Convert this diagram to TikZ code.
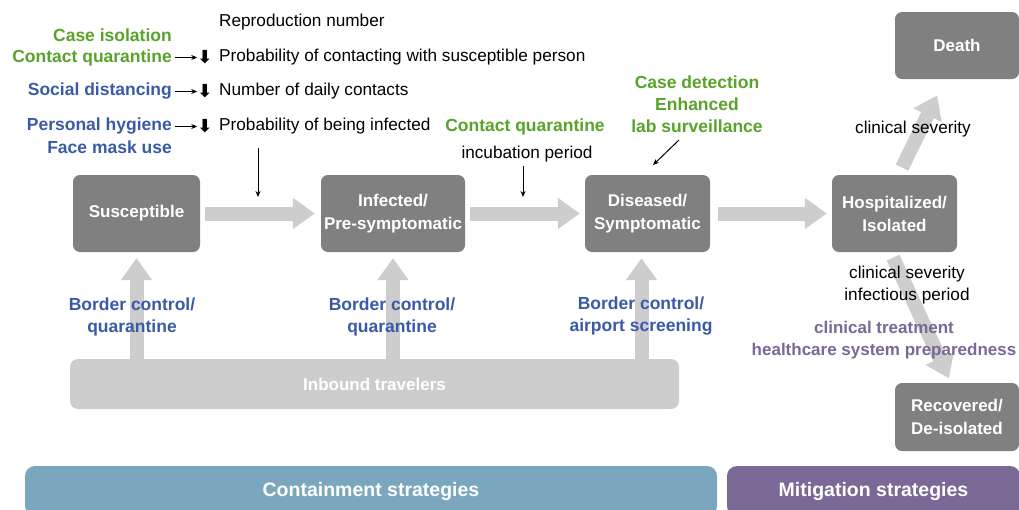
\documentclass[tikz,border=0pt]{standalone}
\usepackage{fontspec}
\setmainfont{Liberation Sans}
\newfontfamily\symfont{DejaVu Sans}
\usetikzlibrary{arrows.meta}
\definecolor{boxgray}{RGB}{128,128,128}
\definecolor{arrgray}{RGB}{205,205,205}
\definecolor{ctgreen}{RGB}{88,163,42}
\definecolor{ctblue}{RGB}{58,90,168}
\definecolor{mtpurple}{RGB}{122,104,150}
\definecolor{contblue}{RGB}{122,167,190}

\begin{document}
\begin{tikzpicture}[x=1pt,y=-1pt,
	state/.style={rectangle,rounded corners=7pt,fill=boxgray,text=white,align=center,inner sep=0pt,
		minimum height=77pt,font=\bfseries\fontsize{17}{23}\selectfont},
	inbox/.style={rectangle,rounded corners=8pt,fill=arrgray,text=white,inner sep=0pt,
		font=\bfseries\fontsize{17}{22}\selectfont},
	stratbox/.style={rectangle,rounded corners=10pt,text=white,inner sep=0pt,minimum height=50pt,
		font=\bfseries\fontsize{19.5}{22}\selectfont},
	lbl/.style={inner sep=0pt,align=center,font=\bfseries\fontsize{17.5}{22}\selectfont},
	txt/.style={inner sep=0pt,align=center,font=\fontsize{17.2}{22}\selectfont},
	dn/.style={inner sep=0pt,font=\symfont\bfseries\fontsize{18}{18}\selectfont},
	bigarrow/.style={draw=arrgray,line width=14pt,-{Triangle[width=30pt,length=22pt]}},
	thinarr/.style={draw=black,line width=1pt,-{Stealth[length=6pt,width=5pt]}}]
	\useasboundingbox (0,0) rectangle (1019,509);
		% bottom bars
		\node[stratbox,fill=contblue,minimum width=692pt] (con) at (371,491) {Containment strategies};
		\node[stratbox,fill=mtpurple,minimum width=293pt] (mit) at (873.5,491) {Mitigation strategies};
		\node[inbox,minimum width=609pt,minimum height=50pt] (inb) at (374.5,384) {Inbound travelers};
	% compartments
	\node[state,minimum width=127pt] (sus) at (136.5,213.5) {Susceptible};
	\node[state,minimum width=144pt] (inf) at (393,213.5) {Infected/\\Pre-symptomatic};
	\node[state,minimum width=125pt] (dis) at (647.5,213.5) {Diseased/\\Symptomatic};
	\node[state,minimum width=125pt] (hos) at (894.5,213.5) {Hospitalized/\\Isolated};
	\node[state,minimum width=124pt,minimum height=67pt] (dea) at (957,45.5) {Death};
	\node[state,minimum width=124pt,minimum height=68pt] (rec) at (957,417) {Recovered/\\De-isolated};
		% flows
		\draw[bigarrow,shorten <=5pt,shorten >=6pt] (sus) -- (inf);
		\draw[bigarrow,shorten <=5pt,shorten >=5pt] (inf) -- (dis);
		\draw[bigarrow,shorten <=8pt,shorten >=5pt] (dis) -- (hos);
		\draw[bigarrow,shorten <=8pt,shorten >=18pt] ([xshift=4pt]hos.north) -- ([xshift=-12pt]dea.south);
		\draw[bigarrow,shorten <=6pt,shorten >=5pt] ([xshift=-4pt]hos.south) -- ([xshift=-6pt]rec.north);
		\coordinate (dbot) at ([xshift=-6pt]dis.south);
		\draw[bigarrow,shorten >=6pt] (inb.north -| sus) -- (sus);
		\draw[bigarrow,shorten >=6pt] (inb.north -| inf) -- (inf);
		\draw[bigarrow,shorten >=6pt] (inb.north -| dbot) -- (dbot);
	% interventions on the left
	\node[lbl,text=ctgreen,anchor=east] (ci) at (172,35.5) {Case isolation};
	\node[lbl,text=ctgreen,anchor=east] (cq) at (172,57.5) {Contact quarantine};
	\node[lbl,text=ctblue,anchor=east] (sd) at (172,91.5) {Social distancing};
	\node[lbl,text=ctblue,anchor=east] (ph) at (172,126.5) {Personal hygiene};
	\node[lbl,text=ctblue,anchor=east] (fm) at (172,147.5) {Face mask use};
	\node[dn] (d1) at (205,57) {⬇};
	\node[dn] (d2) at (205,91) {⬇};
	\node[dn] (d3) at (205,126) {⬇};
		\draw[thinarr] ([xshift=3pt]cq.east) -- (cq.east -| d1.west);
		\draw[thinarr] ([xshift=3pt]sd.east) -- (sd.east -| d2.west);
		\draw[thinarr] ([xshift=3pt]ph.east) -- (ph.east -| d3.west);
	\node[txt,anchor=west] (rn) at (219,22.5) {Reproduction number};
	\node[txt,anchor=west] (p1) at (219,57.5) {Probability of contacting with susceptible person};
	\node[txt,anchor=west] (p2) at (219,91.5) {Number of daily contacts};
	\node[txt,anchor=west] (p3) at (219,126.5) {Probability of being infected};
	\coordinate (a1s) at (258,148);
	\coordinate (a1e) at (258,197);
		\draw[thinarr] (a1s) -- (a1e);
	% between infected and diseased
	\node[lbl,text=ctgreen] (cq2) at (525,126.5) {Contact quarantine};
	\node[txt] (ip) at (527,154.5) {incubation period};
	\coordinate (a2e) at (523,197);
		\draw[thinarr] (ip.south -| a2e) ++(0,3) -- (a2e);
	\node[lbl,text=ctgreen] (cd) at (697,104.5) {Case detection\\Enhanced\\lab surveillance};
	\coordinate (a3s) at (679,140);
	\coordinate (a3e) at (653,165);
		\draw[thinarr] (a3s) -- (a3e);
	% border control
	\node[lbl,text=ctblue] (bc1) at (132,316.5) {Border control/\\quarantine};
	\node[lbl,text=ctblue] (bc2) at (392,316.5) {Border control/\\quarantine};
	\node[lbl,text=ctblue] (bc3) at (641,316.5) {Border control/\\airport screening};
	% mitigation side
	\node[txt] (cs1) at (913,129.5) {clinical severity};
	\node[txt] (cs2) at (907,285.5) {clinical severity\\infectious period};
	\node[lbl,text=mtpurple,font=\bfseries\fontsize{17}{22}\selectfont] (ct) at (884,340.5) {clinical treatment\\healthcare system preparedness};
\end{tikzpicture}
\end{document}
